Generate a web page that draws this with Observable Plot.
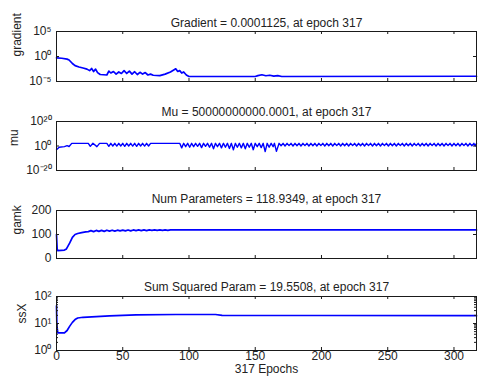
<!DOCTYPE html>
<html><head><meta charset="utf-8">
<script src="https://cdn.jsdelivr.net/npm/d3@7"></script>
<script src="https://cdn.jsdelivr.net/npm/@observablehq/plot@0.6"></script>
<style>
html,body{margin:0;padding:0;background:#fff;}
#chart{position:relative;width:478px;height:379px;overflow:hidden;background:#fff;}
#chart svg{position:absolute;left:0;overflow:visible;}
</style></head><body><div id="chart"></div>
<script>
// ---------- data ----------
const titles = [
  "Gradient = 0.0001125, at epoch 317",
  "Mu = 50000000000.0001, at epoch 317",
  "Num Parameters = 118.9349, at epoch 317",
  "Sum Squared Param = 19.5508, at epoch 317"
];
const yLabels = ["gradient", "mu", "gamk", "ssX"];
const xLabel = "317 Epochs";
const xTicks = [0, 50, 100, 150, 200, 250, 300];

const gradTicks = [1e-5, 1, 1e5];
const gradTickLabels = ["10\u207B\u2075", "10\u2070", "10\u2075"];
const muTicks = [1e-20, 1, 1e20];
const muTickLabels = ["10\u207B\u00B2\u2070", "10\u2070", "10\u00B2\u2070"];
const gamkTicks = [0, 100, 200];
const gamkTickLabels = ["0", "100", "200"];
const ssxTicks = [1, 10, 100];
const ssxTickLabels = ["10\u2070", "10\u00B9", "10\u00B2"];
const ssxMinorTicks = [2, 3, 4, 5, 6, 7, 8, 9, 20, 30, 40, 50, 60, 70, 80, 90];

const gradEpoch = [0, 4, 8, 9.5, 12, 14, 17, 20, 23, 25, 26.5, 28, 29.5, 31, 33, 38, 39.5, 41, 43, 45, 47, 49, 51, 53, 55, 57, 59, 61, 63, 65, 67, 69, 71, 73, 78, 82, 86, 88.5, 90, 91.5, 93, 94.5, 96, 98, 100, 150, 152, 155, 158, 161, 164, 167, 170, 317];
const gradValue = [0.55, 0.45, 0.3, 0.2, 0.04, 0.015, 0.008, 0.005, 0.003, 0.0015, 0.004, 0.001, 0.003, 0.0006, 0.00025, 0.0002, 0.0012, 0.0005, 0.001, 0.0003, 0.0008, 0.0004, 0.0015, 0.0004, 0.0012, 0.0003, 0.0009, 0.00025, 0.0007, 0.0003, 0.0006, 0.0002, 0.0003, 0.00018, 0.00015, 0.0003, 0.0008, 0.002, 0.0035, 0.001, 0.0015, 0.0005, 0.0008, 0.0002, 0.0001, 0.0001, 0.00015, 0.00022, 0.00014, 0.00018, 0.00012, 0.00015, 0.0001, 0.0001125];

const muEpoch = [0, 2, 6, 8, 9.5, 11.5, 24, 25.5, 27.5, 30.5, 32.5, 38,
  39.5, 41, 42.5, 44, 45.5, 47, 48.5, 50, 51.5, 53, 54.5, 56, 57.5, 59, 60.5, 62, 63.5, 65, 66.5, 68, 69.5, 71, 93,
  94.5, 96, 97.5, 99, 100.5, 102, 103.5, 105, 106.5, 108, 109.5, 111, 112.5, 114, 115.5, 117, 118.5, 120, 121.5, 123, 124.5, 126, 127.5, 129, 130.5, 132, 133.5, 135, 136.5, 138, 139.5, 141, 142.5, 144, 145.5, 147, 148.5, 150, 151.5, 153, 154.5, 156, 157.5, 159, 160.5, 162, 163.5, 164.5, 166, 168,
  169.5, 171, 172.5, 174, 175.5, 177, 178.5, 180, 181.5, 183, 184.5, 186, 187.5, 189, 190.5, 192, 193.5, 195, 196.5, 198, 199.5, 201, 202.5, 204, 205.5, 207, 208.5, 210, 211.5, 213, 214.5, 216, 217.5, 219, 220.5, 222, 223.5, 225, 226.5, 228, 229.5, 231, 232.5, 234, 235.5, 237, 238.5, 240, 241.5, 243, 244.5, 246, 247.5, 249, 250.5, 252, 253.5, 255, 256.5, 258, 259.5, 261, 262.5, 264, 265.5, 267, 268.5, 270, 271.5, 273, 274.5, 276, 277.5, 279, 280.5, 282, 283.5, 285, 286.5, 288, 289.5, 291, 292.5, 294, 295.5, 297, 298.5, 300, 301.5, 303, 304.5, 306, 307.5, 309, 310.5, 312, 313.5, 315, 316, 317];
const muValue = [0.0008, 0.1, 0.3, 2, 0.4, 150, 150, 0.5, 150, 0.3, 150, 150,
  0.5, 150, 1, 150, 0.8, 150, 1, 150, 0.5, 150, 1, 150, 0.8, 150, 0.5, 150, 1, 150, 0.8, 150, 1, 150, 150,
  0.03, 150, 0.3, 150, 0.1, 150, 0.3, 150, 0.5, 150, 0.05, 150, 0.5, 150, 0.1, 150, 0.005, 150, 0.3, 150, 0.03, 150, 0.1, 150, 0.01, 150, 0.0008, 150, 0.1, 150, 0.03, 150, 0.005, 150, 0.1, 150, 0.001, 150, 0.3, 150, 0.05, 150, 0.00003, 150, 0.1, 150, 0.3, 150, 0.00004, 150,
  1.5, 150, 1, 150, 2, 150, 1, 150, 1.5, 150, 1, 150, 2, 150, 1, 150, 1.5, 150, 1, 150, 2, 150, 1, 150, 1.5, 150, 1, 150, 2, 150, 1, 150, 1.5, 150, 1, 150, 2, 150, 1, 150, 1.5, 150, 1, 150, 2, 150, 1, 150, 1.5, 150, 1, 150, 2, 150, 1, 150, 1.5, 150, 1, 150, 2, 150, 1, 150, 1.5, 150, 1, 150, 2, 150, 1, 150, 1.5, 150, 1, 150, 2, 150, 1, 150, 1.5, 150, 1, 150, 2, 150, 1, 150, 1.5, 150, 1, 150, 2, 150, 1, 150, 1.5, 150, 1, 150, 2, 150, 1, 150, 5e10];

const gamkEpoch = [0, 0.5, 1, 6, 7.5, 10, 12, 14, 16, 19, 22, 24, 26, 28, 30, 32, 34, 36, 38, 40, 42, 44, 46, 48, 50, 52, 54, 56, 58, 60, 62, 64, 66, 68, 70, 72, 74, 76, 78, 80, 82, 84, 86, 100, 150, 317];
const gamkValue = [100, 40, 33, 35, 40, 65, 88, 100, 104, 108, 111, 112, 116, 112, 117, 113, 117, 113, 118, 114, 118, 114, 118, 115, 118, 115, 119, 115, 119, 116, 119, 116, 119, 116, 119, 117, 119, 117, 119, 117, 119, 117, 119, 119, 119, 118.93];

const ssxEpoch = [0, 0.3, 1, 6, 8, 10, 12, 14, 16, 20, 30, 40, 50, 60, 90, 120, 125, 200, 317];
const ssxValue = [45, 8, 4.5, 4.5, 5.5, 8, 11, 14, 16, 17, 18, 19, 20, 21, 21.5, 21.5, 20, 19.8, 19.55];

// ---------- drawing ----------
const FONT = "Liberation Sans, Arial, Helvetica, sans-serif";
const FS = 12;
const W = 478, ML = 56, MR = 2;
const frameW = W - ML - MR;
const chart = document.getElementById("chart");

function panel(o) {
  const frameH = o.height - o.mt - o.mb;
  const idx = o.epochs.map((_, i) => i);
  const marks = [
    Plot.line(idx, {x: i => o.epochs[i], y: i => o.values[i], stroke: "#0000ff", strokeWidth: o.lw || 1.7}),
    Plot.frame({stroke: "#1a1a1a"}),
    Plot.tickX(xTicks, {x: d => d, insetBottom: frameH - 3, stroke: "#1a1a1a"}),
    Plot.tickX(xTicks, {x: d => d, insetTop: frameH - 3, stroke: "#1a1a1a"}),
    Plot.tickY(o.yTicks, {y: d => d, insetRight: frameW - 3, stroke: "#1a1a1a"}),
    Plot.tickY(o.yTicks, {y: d => d, insetLeft: frameW - 3, stroke: "#1a1a1a"}),
    Plot.text(o.yTicks, {y: d => d, frameAnchor: "left", dx: -5, textAnchor: "end",
      text: (d, i) => o.yTickLabels[i], fill: "#222", fontSize: FS}),
    Plot.text([o.title], {frameAnchor: "top", dy: o.titleDy, text: d => d, fill: "#222", fontSize: FS}),
    Plot.text([o.ylabel], {frameAnchor: "left", dx: o.ylabelDx, rotate: -90, text: d => d, fill: "#222", fontSize: FS})
  ];
  if (o.minor) {
    marks.push(Plot.tickY(o.minor, {y: d => d, insetRight: frameW - 2, stroke: "#1a1a1a"}));
    marks.push(Plot.tickY(o.minor, {y: d => d, insetLeft: frameW - 2, stroke: "#1a1a1a"}));
  }
  if (o.xAxisLabels) {
    marks.push(Plot.text(xTicks, {x: d => d, frameAnchor: "bottom", dy: 9, text: d => String(d), fill: "#222", fontSize: FS}));
    marks.push(Plot.text([xLabel], {frameAnchor: "bottom", dy: 22, text: d => d, fill: "#222", fontSize: FS}));
  }
  const svg = Plot.plot({
    width: W, height: o.height,
    marginLeft: ML, marginRight: MR, marginTop: o.mt, marginBottom: o.mb,
    style: {fontFamily: FONT, fontSize: FS + "px", background: "transparent"},
    x: {domain: [0, 317], axis: null},
    y: {type: o.yType, domain: o.yDomain, axis: null},
    marks
  });
  svg.style.top = o.top + "px";
  chart.appendChild(svg);
}

panel({top: 0, height: 90, mt: 31, mb: 9, yType: "log", yDomain: [1e-5, 1e5],
  yTicks: gradTicks, yTickLabels: gradTickLabels, title: titles[0], titleDy: -13,
  ylabel: yLabels[0], ylabelDx: -39, epochs: gradEpoch, values: gradValue});
panel({top: 90, height: 90, mt: 31, mb: 10, yType: "log", yDomain: [1e-20, 1e20],
  yTicks: muTicks, yTickLabels: muTickLabels, title: titles[1], titleDy: -14,
  ylabel: yLabels[1], ylabelDx: -42, epochs: muEpoch, values: muValue, lw: 1.4});
panel({top: 180, height: 90, mt: 30, mb: 12, yType: "linear", yDomain: [0, 200],
  yTicks: gamkTicks, yTickLabels: gamkTickLabels, title: titles[2], titleDy: -16,
  ylabel: yLabels[2], ylabelDx: -39, epochs: gamkEpoch, values: gamkValue});
panel({top: 270, height: 109, mt: 26, mb: 29, yType: "log", yDomain: [1, 100],
  yTicks: ssxTicks, yTickLabels: ssxTickLabels, minor: ssxMinorTicks, title: titles[3], titleDy: -14,
  ylabel: yLabels[3], ylabelDx: -34, epochs: ssxEpoch, values: ssxValue, xAxisLabels: true});
</script></body></html>
